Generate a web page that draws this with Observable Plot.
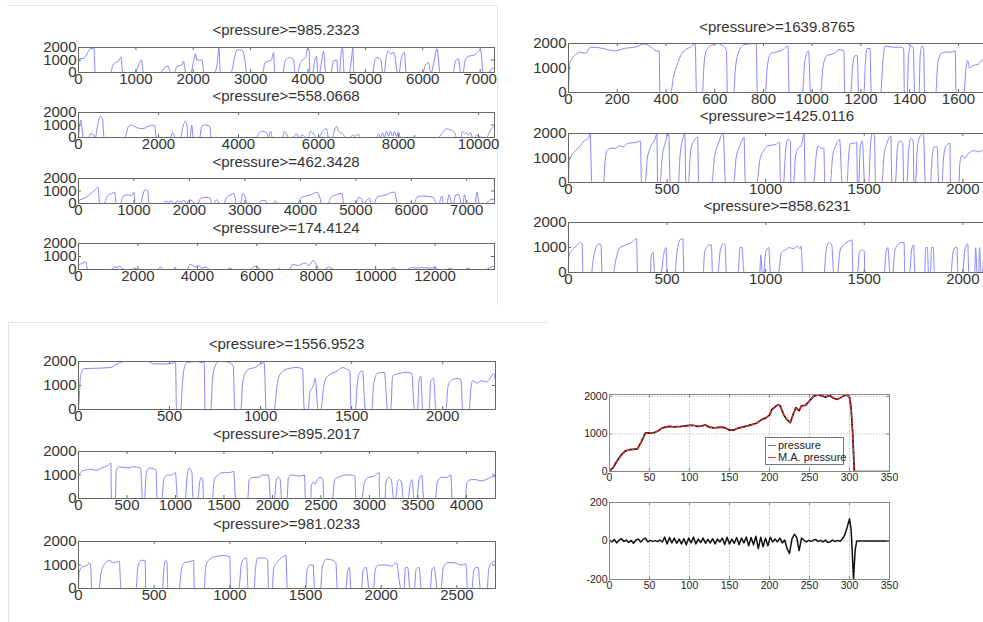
<!DOCTYPE html>
<html><head><meta charset="utf-8">
<script src="https://cdn.jsdelivr.net/npm/d3@7"></script>
<script src="https://cdn.jsdelivr.net/npm/@observablehq/plot@0.6"></script>
<style>
body{margin:0;background:#fff;}
#root{position:relative;width:983px;height:622px;overflow:hidden;background:#fff;font-family:"Liberation Sans",Arial,Helvetica,sans-serif;}
.ttl{position:absolute;transform:translate(-50%,-50%);font-size:15px;color:#333;white-space:nowrap;line-height:1;}
.bx{position:absolute;background:#e4e4e4;}
.lg{position:absolute;background:#fff;border:1px solid #777;font-size:11px;color:#222;}
.lg div{position:relative;height:12px;line-height:12px;white-space:nowrap;}
.lg span{position:absolute;top:6px;height:0;}
svg{position:absolute;}
</style></head><body><div id="root"></div>
<script>
// ---------- titles ----------
const titles = ["<pressure>=985.2323","<pressure>=558.0668","<pressure>=462.3428","<pressure>=174.4124",
  "<pressure>=1639.8765","<pressure>=1425.0116","<pressure>=858.6231",
  "<pressure>=1556.9523","<pressure>=895.2017","<pressure>=981.0233"];
const legendLabels = ["pressure","M.A. pressure"];
// ---------- tick values ----------
const yTicks = [0,1000,2000];
const ticksTL1 = [0,1000,2000,3000,4000,5000,6000,7000];
const ticksTL2 = [0,2000,4000,6000,8000,10000];
const ticksTL3 = [0,1000,2000,3000,4000,5000,6000,7000];
const ticksTL4 = [0,2000,4000,6000,8000,10000,12000];
const ticksTR1 = [0,200,400,600,800,1000,1200,1400,1600];
const ticksTR2 = [0,500,1000,1500,2000];
const ticksBL1 = [0,500,1000,1500,2000];
const ticksBL2 = [0,500,1000,1500,2000,2500,3000,3500,4000];
const ticksBL3 = [0,500,1000,1500,2000,2500];
const ticksBR = [0,50,100,150,200,250,300,350];
const yTicksRes = [-200,0,200];
// ---------- series: [time, pressure] ----------
const tl1 = [[0,700],[20,1100],[100,1150],[150,1500],[200,1900],[270,1950],[290,0],[560,0],[600,600],[650,800],[700,900],[740,1250],[770,0],[980,0],[1050,600],[1100,1000],[1130,0],[1430,0],[1500,400],[1560,500],[1600,0],[1670,0],[1720,500],[1800,600],[1830,900],[1870,0],[1960,0],[2000,800],[2040,1500],[2060,1000],[2150,1000],[2190,0],[2370,0],[2420,800],[2450,2000],[2470,0],[2660,0],[2720,1200],[2760,1800],[2850,1800],[2900,1000],[2930,0],[3210,0],[3250,800],[3300,900],[3360,1000],[3400,1600],[3420,0],[3560,0],[3600,900],[3680,1200],[3750,1000],[3770,0],[3820,0],[3860,700],[3900,1000],[3960,1200],[3990,1900],[4020,1800],[4030,0],[4080,0],[4120,1000],[4150,1300],[4170,0],[4200,0],[4240,1000],[4270,1700],[4310,0],[4400,0],[4440,900],[4500,1000],[4520,0],[4550,0],[4570,1200],[4600,2000],[4630,0],[4720,0],[4760,1200],[4780,2000],[4800,0],[5130,0],[5160,900],[5200,1200],[5270,1000],[5300,0],[5330,0],[5360,1200],[5400,1700],[5450,1500],[5500,1600],[5560,0],[5590,0],[5620,1000],[5680,1600],[5710,0],[6000,0],[6050,600],[6100,800],[6140,0],[6150,0],[6200,1000],[6250,1900],[6300,0],[6530,0],[6570,900],[6620,1100],[6660,0],[6700,0],[6740,1000],[6800,1300],[6900,1400],[6950,1600],[7010,1800],[7050,0],[7150,0],[7200,300],[7250,350]];
const tl2 = [[0,0],[30,1000],[60,1400],[120,0],[260,0],[300,300],[380,200],[400,0],[420,0],[480,1000],[550,1700],[600,1500],[640,0],[1160,0],[1250,900],[1320,1000],[1450,800],[1600,700],[1750,900],[1900,1000],[1950,0],[2300,0],[2350,400],[2420,0],[2550,0],[2600,700],[2670,1300],[2720,800],[2730,0],[2790,0],[2830,1000],[2870,0],[3030,0],[3080,900],[3150,1000],[3280,900],[3320,0],[4450,0],[4500,300],[4600,500],[4700,400],[4750,0],[4800,500],[4850,0],[5100,0],[5150,500],[5200,300],[5250,0],[5350,0],[5450,300],[5500,0],[5600,200],[5680,0],[5750,0],[5800,500],[5900,200],[5950,0],[6000,0],[6100,500],[6200,700],[6250,0],[6350,0],[6400,600],[6450,900],[6500,500],[6600,300],[6700,0],[6800,0],[6850,200],[6900,100],[7000,250],[7050,0],[7450,0],[7500,300],[7550,0],[7600,400],[7650,0],[7700,500],[7750,100],[7800,500],[7850,100],[7900,500],[7950,100],[8000,450],[8050,0],[8380,0],[8400,200],[8420,0],[9000,0],[9100,400],[9200,700],[9300,600],[9400,400],[9450,0],[9550,0],[9600,500],[9650,300],[9700,400],[9750,200],[9800,400],[9850,0],[9900,0],[9950,200],[10000,100],[10100,0],[10200,0],[10300,600],[10400,900]];
const tl3 = [[0,0],[20,300],[100,400],[200,700],[300,1100],[350,1300],[380,0],[460,0],[520,600],[600,800],[650,900],[680,0],[760,0],[800,600],[900,700],[950,600],[1000,900],[1020,0],[1120,0],[1160,700],[1200,1100],[1250,1000],[1270,0],[1540,0],[1570,200],[1620,100],[1680,200],[1720,0],[1800,200],[1850,100],[1900,250],[1950,0],[2000,300],[2050,200],[2100,0],[2150,0],[2200,400],[2300,500],[2380,400],[2400,0],[2440,0],[2480,300],[2550,0],[2620,0],[2670,500],[2750,700],[2800,800],[2850,0],[2920,0],[2960,800],[3000,600],[3040,0],[3250,0],[3300,250],[3380,200],[3400,0],[3500,0],[3550,200],[3600,0],[3950,0],[4000,400],[4100,600],[4200,700],[4300,900],[4350,500],[4380,0],[4500,0],[4550,500],[4650,700],[4750,800],[4780,0],[5000,0],[5050,500],[5100,400],[5130,0],[5150,0],[5200,300],[5250,400],[5270,0],[5330,0],[5380,500],[5450,600],[5550,700],[5650,900],[5700,900],[5750,0],[6050,0],[6100,500],[6200,600],[6400,500],[6450,0],[6500,0],[6550,600],[6580,0],[6640,0],[6680,700],[6730,0],[6760,0],[6800,700],[6860,700],[6900,0],[6930,0],[6960,700],[7000,0],[7150,0],[7180,900],[7230,0],[7350,0],[7420,300],[7500,350]];
const tl4 = [[0,300],[50,400],[150,500],[250,600],[300,0],[1100,0],[1200,200],[1300,150],[1400,250],[1500,0],[1800,0],[1900,100],[2000,0],[2650,0],[2750,200],[2850,0],[3200,0],[3250,200],[3300,0],[3650,0],[3750,400],[3850,300],[3950,200],[4050,300],[4150,100],[4300,200],[4400,0],[5000,0],[5100,100],[5200,0],[5780,0],[5900,200],[6000,300],[6100,0],[6700,0],[6750,100],[6800,0],[7100,0],[7200,400],[7400,300],[7500,400],[7650,500],[7750,300],[7900,700],[8000,400],[8100,0],[8300,0],[8400,200],[8600,0],[10500,0],[10600,150],[10700,0],[11050,0],[11200,150],[11400,100],[11600,150],[11800,100],[12000,150],[12100,0],[12400,0],[12500,100],[12600,0],[13000,0],[13100,100],[13200,0],[13700,0],[13900,200],[14000,250]];
const tr1 = [[0,0],[5,1200],[25,1500],[50,1650],[70,1600],[90,1850],[130,1820],[160,1750],[190,1700],[230,1800],[280,1870],[310,1980],[340,1850],[360,1700],[372,1700],[375,0],[420,0],[430,600],[445,1100],[460,1500],[480,1750],[500,1850],[520,2000],[525,0],[550,0],[555,1000],[565,1700],[590,1950],[610,2000],[640,1850],[648,1700],[652,0],[678,0],[685,1000],[700,1700],[720,1950],[770,2000],[775,0],[808,0],[815,1000],[830,1600],[850,1650],[880,1750],[900,1900],[905,0],[960,0],[970,1300],[985,1700],[993,0],[1034,0],[1045,1100],[1060,1500],[1090,1600],[1110,1750],[1130,1700],[1133,0],[1158,0],[1165,1000],[1175,1500],[1185,1500],[1190,0],[1212,0],[1218,1200],[1225,1800],[1237,1800],[1242,0],[1281,0],[1290,1300],[1300,1900],[1330,1850],[1360,1850],[1375,1800],[1378,0],[1390,0],[1395,1500],[1405,1900],[1415,1800],[1420,0],[1438,0],[1443,1500],[1450,1900],[1457,1800],[1461,0],[1507,0],[1515,1200],[1530,1600],[1550,1650],[1575,1650],[1587,1700],[1590,0],[1623,0],[1630,900],[1638,1300],[1645,1000],[1660,1100],[1680,1150],[1700,1350],[1715,1400]];
const tr2 = [[0,0],[3,900],[15,1100],[35,1300],[60,1500],[80,1700],[100,1800],[110,2000],[118,0],[178,0],[185,800],[195,1300],[215,1400],[240,1400],[260,1500],[275,1450],[300,1600],[350,1650],[365,1700],[370,0],[389,0],[400,1000],[420,1500],[440,1800],[448,2000],[452,0],[465,0],[475,1000],[490,1600],[508,2000],[516,0],[558,0],[565,1000],[580,1800],[590,2000],[595,0],[609,0],[618,1200],[635,1700],[655,1850],[660,0],[727,0],[740,1000],[760,1600],[785,2000],[796,0],[838,0],[850,1000],[870,1500],[890,1850],[897,0],[956,0],[970,900],[990,1300],[1010,1500],[1050,1550],[1070,1650],[1075,0],[1091,0],[1100,1200],[1110,1750],[1125,1700],[1128,0],[1142,0],[1150,1000],[1165,1400],[1180,1500],[1195,2000],[1200,0],[1244,0],[1255,1000],[1265,1500],[1280,1400],[1295,1400],[1300,0],[1328,0],[1340,1100],[1355,1500],[1375,1750],[1388,0],[1413,0],[1420,1000],[1430,1600],[1450,1600],[1462,1650],[1465,0],[1472,0],[1480,1500],[1490,1700],[1502,0],[1523,0],[1530,1300],[1540,2000],[1552,1900],[1557,0],[1590,0],[1600,1100],[1615,1600],[1635,1900],[1640,0],[1658,0],[1668,1400],[1680,1700],[1695,1600],[1700,0],[1717,0],[1725,1300],[1737,1800],[1748,1700],[1752,0],[1760,0],[1770,1500],[1785,1900],[1800,2000],[1810,0],[1836,0],[1845,1100],[1855,1450],[1870,1450],[1877,0],[1895,0],[1902,1000],[1915,1500],[1935,1600],[1937,0],[1980,0],[1985,800],[1995,1100],[2010,1000],[2030,1200],[2060,1300],[2080,1250],[2107,1350],[2120,1400]];
const tr3 = [[0,600],[10,800],[25,950],[45,1100],[60,1200],[70,1100],[73,0],[117,0],[125,500],[140,1000],[155,1150],[165,1100],[170,0],[228,0],[240,500],[260,1000],[290,1100],[320,1200],[345,1350],[350,0],[415,0],[420,700],[430,800],[436,0],[470,0],[480,600],[495,1000],[500,0],[540,0],[550,800],[565,1300],[580,1350],[585,0],[683,0],[690,800],[700,1000],[712,1100],[725,1100],[730,0],[757,0],[770,900],[785,1150],[795,1100],[800,0],[860,0],[870,1000],[880,1000],[890,0],[970,0],[975,700],[983,0],[990,0],[1000,800],[1015,1000],[1025,0],[1065,0],[1080,800],[1100,900],[1120,1000],[1140,950],[1160,1050],[1175,950],[1180,1050],[1188,0],[1297,0],[1305,800],[1320,1200],[1335,1100],[1345,0],[1364,0],[1378,900],[1395,1100],[1420,1250],[1438,1300],[1442,0],[1466,0],[1475,800],[1490,900],[1500,850],[1503,0],[1602,0],[1610,800],[1620,1000],[1630,0],[1645,0],[1655,900],[1670,1100],[1690,1200],[1702,1200],[1705,0],[1730,0],[1740,900],[1750,1100],[1757,0],[1806,0],[1812,1000],[1820,1000],[1826,0],[1835,0],[1842,1000],[1850,1000],[1856,0],[1940,0],[1950,800],[1962,1000],[1970,1000],[1975,0],[2000,0],[2010,900],[2025,1150],[2030,0],[2060,0],[2065,1000],[2072,0],[2080,0],[2085,1000],[2092,0],[2100,0],[2110,1100],[2120,1000]];
const bl1 = [[0,0],[5,600],[10,1300],[20,1600],[31,1700],[100,1720],[178,1750],[200,1850],[251,2000],[379,2000],[416,1900],[498,1900],[520,1950],[533,1950],[538,0],[562,0],[570,1000],[580,1700],[595,1950],[650,2000],[680,1950],[690,2000],[695,0],[727,0],[735,1200],[750,1800],[770,2000],[800,2000],[830,1950],[850,1800],[858,0],[892,0],[900,1000],[915,1500],[940,1700],[970,1750],[1000,1900],[1020,1950],[1030,0],[1075,0],[1090,1000],[1110,1500],[1150,1700],[1200,1750],[1230,1700],[1240,0],[1262,0],[1270,700],[1290,1000],[1300,1300],[1315,0],[1330,0],[1350,1100],[1370,1400],[1420,1600],[1450,1750],[1480,1650],[1490,1600],[1497,0],[1520,0],[1530,1000],[1545,1550],[1560,1600],[1575,0],[1612,0],[1620,1000],[1640,1500],[1680,1550],[1697,0],[1715,0],[1725,1400],[1760,1500],[1800,1550],[1830,1500],[1845,0],[1862,0],[1870,1200],[1880,1400],[1890,0],[1925,0],[1935,1200],[1950,1300],[1963,0],[2018,0],[2030,1000],[2045,1200],[2080,1300],[2100,1250],[2110,0],[2146,0],[2155,900],[2165,1200],[2190,1100],[2210,1200],[2240,1150],[2260,1300],[2280,1500],[2290,1200]];
const bl2 = [[0,1000],[20,1100],[60,1200],[120,1250],[180,1200],[240,1300],[300,1400],[334,1500],[340,0],[380,0],[390,1200],[420,1350],[500,1300],[560,1350],[640,1300],[660,0],[680,0],[700,1100],[730,1300],[780,1250],[800,1200],[810,0],[860,0],[880,800],[920,1000],[960,1000],[1000,1100],[1020,0],[1100,0],[1120,900],[1140,1300],[1170,1100],[1180,0],[1230,0],[1250,700],[1265,900],[1280,800],[1290,0],[1380,0],[1400,800],[1440,1000],[1480,1100],[1550,1100],[1600,1150],[1620,0],[1745,0],[1760,800],[1800,900],[1850,900],[1900,1000],[1960,1000],[1980,0],[2020,0],[2040,800],[2060,900],[2080,800],[2095,0],[2150,0],[2165,900],[2200,1000],[2280,950],[2330,1000],[2340,0],[2395,0],[2400,500],[2420,700],[2440,600],[2460,800],[2500,900],[2520,800],[2530,0],[2620,0],[2640,800],[2680,900],[2750,1000],[2800,1000],[2850,950],[2860,0],[2920,0],[2950,700],[2990,900],[3050,950],[3100,1100],[3105,0],[3160,0],[3170,700],[3200,900],[3225,800],[3250,0],[3270,0],[3290,700],[3310,800],[3330,700],[3350,0],[3400,0],[3420,600],[3440,800],[3460,0],[3490,0],[3510,800],[3540,1000],[3560,0],[3680,0],[3700,700],[3740,900],[3800,900],[3840,1000],[3852,0],[3990,0],[4000,500],[4010,700],[4050,800],[4100,800],[4150,750],[4200,800],[4250,900],[4300,950]];
const bl3 = [[0,0],[5,700],[20,900],[40,950],[60,1000],[70,1100],[80,1000],[88,0],[135,0],[150,700],[160,900],[180,1100],[200,1200],[230,1100],[270,1150],[280,0],[380,0],[390,800],[400,1100],[420,1200],[440,1200],[445,0],[555,0],[565,900],[575,1200],[585,1100],[590,0],[665,0],[680,800],[700,1100],[740,1150],[760,1200],[765,0],[830,0],[840,900],[860,1200],[900,1350],[960,1400],[1000,1350],[1005,0],[1060,0],[1075,1000],[1090,1250],[1110,1300],[1120,0],[1160,0],[1170,900],[1185,1300],[1230,1300],[1250,1200],[1255,0],[1280,0],[1290,900],[1310,1100],[1330,1250],[1370,1400],[1380,0],[1500,0],[1510,800],[1530,1000],[1550,1000],[1560,0],[1600,0],[1610,900],[1640,1250],[1680,1200],[1700,1100],[1710,0],[1765,0],[1780,800],[1790,900],[1800,0],[1870,0],[1880,800],[1900,900],[1920,0],[1950,0],[1960,800],[1980,1000],[2030,1000],[2070,950],[2100,1100],[2130,0],[2150,0],[2160,900],[2175,900],[2190,0],[2220,0],[2230,800],[2250,900],[2265,0],[2325,0],[2335,800],[2350,900],[2370,0],[2395,0],[2410,900],[2440,1100],[2480,1100],[2530,1000],[2560,1050],[2570,0],[2600,0],[2610,700],[2625,900],[2640,900],[2655,0],[2700,0],[2710,800],[2730,1100],[2755,1150]];
// single cycle: time, pressure, moving-average pressure, residual
const pT = [0,5,10,15,20,25,30,35,40,45,50,55,60,65,70,75,80,90,100,105,110,115,120,125,130,140,145,150,155,160,170,180,185,190,195,200,203,207,210,213,218,222,226,230,233,237,240,245,250,255,260,265,270,275,280,285,290,296,300,302,304,306,350];
const pV = [0,120,300,450,550,580,590,600,800,1030,1020,1030,1070,1150,1180,1200,1190,1200,1230,1230,1200,1210,1240,1180,1160,1180,1160,1100,1100,1150,1200,1260,1300,1380,1420,1500,1650,1720,1770,1760,1500,1380,1300,1550,1700,1620,1750,1760,1880,2000,2050,2020,1980,2030,1950,1920,1980,2050,1980,1700,1000,0,0];
const maV = [0,110,290,440,545,575,590,610,810,1020,1020,1030,1075,1145,1180,1195,1195,1200,1225,1225,1205,1210,1235,1185,1165,1175,1160,1105,1105,1150,1200,1255,1300,1375,1420,1495,1640,1715,1765,1750,1510,1385,1310,1540,1690,1630,1745,1765,1875,1990,2040,2020,1985,2025,1955,1925,1975,2040,1985,1720,1020,0,0];
const resT = [0,3,6,9,12,15,18,21,24,27,30,33,36,39,42,45,48,51,54,57,60,63,66,69,72,75,78,81,84,87,90,93,96,99,102,105,108,111,114,117,120,123,126,129,132,135,138,141,144,147,150,153,156,159,162,165,168,171,174,177,180,183,186,189,192,195,198,201,204,207,210,213,216,219,222,225,228,231,234,237,240,243,246,249,252,255,258,261,264,267,270,273,276,279,282,285,288,291,294,297,300,302,303,305,307,309,350];
const resV = [5,-5,8,-10,5,12,-3,5,-8,3,-12,5,10,-5,8,15,-5,3,-2,2,-3,5,-5,20,-15,18,-10,15,-12,10,-15,12,-20,15,-10,20,-15,10,-8,15,-12,8,-10,12,-15,10,-5,15,-18,20,-15,10,-12,18,-20,15,-10,20,-25,18,-20,25,-40,20,-30,15,-25,20,-5,10,-5,15,-10,5,-40,-65,10,35,20,-50,15,5,-5,3,-2,5,8,-3,3,-5,5,-8,-3,5,-3,3,-2,10,30,70,115,60,-20,-200,-50,0,0];

// ---------- drawing ----------
const root = document.getElementById("root");
const FONT = '"Liberation Sans", Arial, Helvetica, sans-serif';
const BLUE = "#8686ff";

function box(l, t, w, h) {
  const d = document.createElement("div"); d.className = "bx";
  Object.assign(d.style, {left: l + "px", top: t + "px", width: w + "px", height: h + "px"});
  root.appendChild(d);
}
function title(txt, cx, cy) {
  const d = document.createElement("div"); d.className = "ttl"; d.textContent = txt;
  d.style.left = cx + "px"; d.style.top = cy + "px"; root.appendChild(d);
}
function panel(p) {
  const ml = 50, mr = 8, mt = 6, mb = 26;
  const [x0, x1] = p.xd, [y0, y1] = p.yd;
  const lx = 3 * (x1 - x0) / p.w, ly = 3 * (y1 - y0) / p.h;
  const fc = p.frame || "#666";
  const marks = [];
  if (p.grid) {
    marks.push(Plot.ruleX(p.xt, {x: d => d, stroke: "#c4c4c4", strokeDasharray: "1.5,1.5"}));
    marks.push(Plot.ruleY(p.yt, {y: d => d, stroke: "#c4c4c4", strokeDasharray: "1.5,1.5"}));
  }
  for (const s of p.series) {
    marks.push(Plot.line(s.data, {x: d => d[0], y: d => d[1], stroke: s.stroke, strokeWidth: s.width,
      strokeDasharray: s.dash, curve: s.curve || "linear", clip: true}));
  }
  marks.push(Plot.ruleX(p.xt, {x: d => d, y1: y0, y2: y0 + ly, stroke: fc}));
  marks.push(Plot.ruleX(p.xt, {x: d => d, y1: y1 - ly, y2: y1, stroke: fc}));
  marks.push(Plot.ruleY(p.yt, {y: d => d, x1: x0, x2: x0 + lx, stroke: fc}));
  marks.push(Plot.ruleY(p.yt, {y: d => d, x1: x1 - lx, x2: x1, stroke: fc}));
  marks.push(Plot.frame({stroke: fc}));
  marks.push(Plot.axisX(p.xt, {anchor: "bottom", tickSize: 0, tickPadding: p.fs > 12 ? 1 : 2, tickFormat: d => String(d)}));
  marks.push(Plot.axisY(p.yt, {anchor: "left", tickSize: 0, tickPadding: 2, tickFormat: d => String(d)}));
  const svg = Plot.plot({
    width: p.w + ml + mr, height: p.h + mt + mb,
    marginLeft: ml, marginRight: mr, marginTop: mt, marginBottom: mb,
    x: {domain: p.xd}, y: {domain: p.yd},
    style: {fontFamily: FONT, fontSize: p.fs + "px", color: p.tc || "#333", background: "transparent", overflow: "visible"},
    marks
  });
  svg.style.left = (p.left - ml) + "px";
  svg.style.top = (p.top - mt) + "px";
  root.appendChild(svg);
}

// group frames
box(7, 5, 491, 1); box(497, 5, 1, 300);
box(8, 322, 539, 1); box(8, 322, 1, 300);

const blue = d => [{data: d, stroke: BLUE, width: 1, curve: "monotone-x"}];
const specs = [
  {s: tl1, xd: [0, 7250], xt: ticksTL1, left: 78, top: 47, w: 416, h: 25, ti: 0, ty: 29},
  {s: tl2, xd: [0, 10400], xt: ticksTL2, left: 78, top: 112, w: 416, h: 25, ti: 1, ty: 95},
  {s: tl3, xd: [0, 7500], xt: ticksTL3, left: 78, top: 178, w: 416, h: 25, ti: 2, ty: 161},
  {s: tl4, xd: [0, 14000], xt: ticksTL4, left: 78, top: 243, w: 416, h: 26, ti: 3, ty: 227},
  {s: tr1, xd: [0, 1715], xt: ticksTR1, left: 568, top: 43, w: 418, h: 49, ti: 4, ty: 26},
  {s: tr2, xd: [0, 2120], xt: ticksTR2, left: 568, top: 133, w: 418, h: 49, ti: 5, ty: 115},
  {s: tr3, xd: [0, 2120], xt: ticksTR2, left: 568, top: 222, w: 418, h: 50, ti: 6, ty: 205},
  {s: bl1, xd: [0, 2290], xt: ticksBL1, left: 78, top: 361, w: 417, h: 48, ti: 7, ty: 343},
  {s: bl2, xd: [0, 4300], xt: ticksBL2, left: 78, top: 451, w: 417, h: 47, ti: 8, ty: 433},
  {s: bl3, xd: [0, 2755], xt: ticksBL3, left: 78, top: 541, w: 417, h: 47, ti: 9, ty: 523}
];
for (const c of specs) {
  panel({series: blue(c.s), xd: c.xd, yd: [0, 2000], xt: c.xt, yt: yTicks, left: c.left, top: c.top, w: c.w, h: c.h, fs: 15});
  title(titles[c.ti], c.left + c.w / 2, c.ty);
}

// single-cycle panels
const pres = pT.map((t, i) => [t, pV[i]]);
const ma = pT.map((t, i) => [t, maV[i]]);
const res = resT.map((t, i) => [t, resV[i]]);
panel({series: [{data: pres, stroke: "#111", width: 1.7}, {data: ma, stroke: "#ff2a2a", width: 1.2, dash: "3,2.5"}],
  xd: [0, 350], yd: [0, 2050], xt: ticksBR, yt: yTicks, left: 609, top: 394, w: 280, h: 77, fs: 10.5, grid: true, frame: "#888", tc: "#222"});
panel({series: [{data: res, stroke: "#111", width: 1.5}],
  xd: [0, 350], yd: [-200, 200], xt: ticksBR, yt: yTicksRes, left: 609, top: 502, w: 280, h: 77, fs: 10.5, grid: true, frame: "#888", tc: "#222"});

// legend
const lg = document.createElement("div"); lg.className = "lg";
Object.assign(lg.style, {left: "765px", top: "437px", width: "77px", height: "25px", paddingTop: "1px"});
const lcol = ["#777", "#ff2a2a"];
legendLabels.forEach((lab, i) => {
  const row = document.createElement("div");
  row.style.paddingLeft = "12px";
  const sw = document.createElement("span");
  sw.style.borderTop = "1px solid " + lcol[i];
  sw.style.left = "2px"; sw.style.width = "8px";
  row.appendChild(sw); row.appendChild(document.createTextNode(lab));
  lg.appendChild(row);
});
root.appendChild(lg);
</script></body></html>
